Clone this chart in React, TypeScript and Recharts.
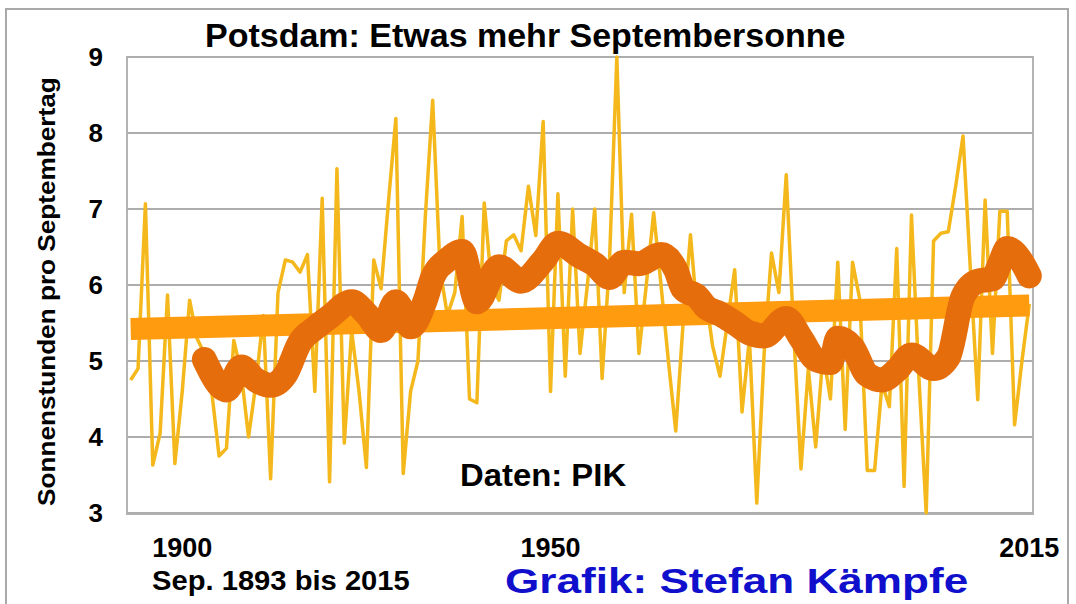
import { LineChart, Line, XAxis, YAxis, CartesianGrid } from 'recharts';

// Sep. 1893 bis 2015
const years = Array.from({ length: 123 }, (_, i) => 1893 + i);

// Sonnenstunden pro Septembertag
const sunshine = [
  4.75, 4.9, 7.07, 3.63, 4.05, 5.87, 3.65, 4.6, 5.8, 5.3,
  5.1, 4.6, 3.75, 3.85, 5.27, 4.85, 4.0, 4.7, 5.6, 3.45,
  5.9, 6.33, 6.3, 6.17, 6.4, 4.6, 7.14, 3.41, 7.53, 3.92,
  5.4, 4.6, 3.6, 6.33, 5.95, 7.1, 8.19, 3.52, 4.6, 5.0,
  6.9, 8.43, 6.2, 5.6, 5.9, 6.9, 4.5, 4.45, 7.08, 6.0,
  5.8, 6.58, 6.66, 6.45, 7.3, 6.65, 8.15, 4.6, 7.2, 4.8,
  7.0, 5.1, 6.0, 7.0, 4.77, 6.3, 9.0, 5.9, 6.93, 5.1,
  6.0, 6.95, 6.0, 5.0, 4.08, 5.5, 6.66, 5.5, 5.9, 5.2,
  4.8, 5.5, 6.2, 4.33, 5.3, 3.13, 5.1, 6.42, 5.9, 7.45,
  5.4, 3.58, 4.9, 3.87, 5.1, 4.5, 6.3, 4.1, 6.3, 5.8,
  3.56, 3.56, 4.7, 4.4, 6.48, 3.35, 6.92, 4.8, 3.0, 6.58,
  6.68, 6.7, 7.3, 7.96, 6.2, 4.49, 7.12, 5.1, 6.97, 6.97,
  4.16, 5.0, 5.75,
];

// gleitendes Mittel (dicke dunkelorange Kurve), read at these years
const maYears = [
  1903, 1905, 1906, 1908, 1910, 1912, 1914, 1916, 1918, 1920,
  1923, 1925, 1927, 1929, 1931, 1933, 1934, 1936, 1938, 1940,
  1943, 1946, 1949, 1951, 1954, 1956, 1958, 1960, 1962, 1965,
  1967, 1968, 1970, 1971, 1973, 1975, 1977, 1979, 1982, 1984,
  1986, 1988, 1989, 1991, 1993, 1995, 1997, 1999, 2002, 2004,
  2006, 2008, 2010, 2011, 2012, 2014, 2015,
];
const maValues = [
  5.02, 4.68, 4.62, 4.92, 4.75, 4.68, 4.82, 5.25, 5.43, 5.58,
  5.78, 5.62, 5.4, 5.78, 5.45, 5.8, 6.1, 6.33, 6.44, 5.78,
  6.24, 6.05, 6.32, 6.55, 6.38, 6.27, 6.1, 6.3, 6.28, 6.4,
  6.2, 5.95, 5.84, 5.72, 5.62, 5.5, 5.37, 5.33, 5.56, 5.3,
  5.02, 4.98, 5.3, 5.18, 4.82, 4.75, 4.88, 5.08, 4.9, 5.05,
  5.85, 6.05, 6.08, 6.28, 6.48, 6.3, 6.12,
];

// linearer Trend
const trendYears = [1893, 2015];
const trendValues = [5.42, 5.73];

const yTicks = [3, 4, 5, 6, 7, 8, 9];
const xTicks = [1900, 1950, 2015];

const data = years.map((year, i) => {
  const m = maYears.indexOf(year);
  const t = trendYears.indexOf(year);
  return {
    year,
    sun: sunshine[i],
    ma: m >= 0 ? maValues[m] : null,
    trend: t >= 0 ? trendValues[t] : null,
  };
});

const font = '"Liberation Sans", Arial, sans-serif';

function Txt({ left, top, size, scale = 1, color = '#000', weight = 'bold', children }) {
  return (
    <div
      style={{
        position: 'absolute',
        left,
        top,
        fontSize: size,
        lineHeight: 1,
        fontWeight: weight,
        color,
        whiteSpace: 'nowrap',
        transform: `scaleX(${scale})`,
        transformOrigin: 'left top',
      }}
    >
      {children}
    </div>
  );
}

export default function App() {
  return (
    <div style={{ position: 'absolute', left: 0, top: 0, width: 1076, height: 604, background: '#fff', fontFamily: font, overflow: 'hidden' }}>
      {/* outer frame */}
      <div style={{ position: 'absolute', left: 5, top: 8, width: 1064, height: 640, border: '2px solid #a9a9a9', boxSizing: 'border-box' }} />
      {/* plot frame */}
      <div style={{ position: 'absolute', left: 126, top: 56, width: 908, height: 459, border: '2px solid #b4b4b4', boxSizing: 'border-box' }} />

      <div style={{ position: 'absolute', left: 0, top: 0 }}>
        <LineChart width={1076} height={604} data={data} margin={{ top: 57, right: 43, bottom: 0, left: 0 }}>
          <CartesianGrid vertical={false} stroke="#adadad" strokeWidth={2} />
          <XAxis
            dataKey="year"
            type="number"
            domain={[1892.5, 2015.5]}
            ticks={xTicks}
            height={91}
            axisLine={false}
            tickLine={false}
            tickSize={0}
            tickMargin={25}
            tick={{ fill: '#000', fontSize: 27, fontWeight: 'bold', fontFamily: font }}
          />
          <YAxis
            domain={[3, 9]}
            ticks={yTicks}
            width={127}
            axisLine={false}
            tickLine={false}
            tickSize={0}
            tickMargin={24}
            tick={{ fill: '#000', fontSize: 26, fontWeight: 'bold', fontFamily: font }}
          />
          <Line
            dataKey="sun"
            type="linear"
            stroke="#f4b81c"
            strokeWidth={3.5}
            dot={false}
            strokeLinejoin="round"
            isAnimationActive={false}
          />
          <Line
            dataKey="trend"
            type="linear"
            stroke="#ff9b0f"
            strokeWidth={22}
            dot={false}
            connectNulls
            isAnimationActive={false}
          />
          <Line
            dataKey="ma"
            type="monotone"
            stroke="#e66d0b"
            strokeWidth={25}
            strokeLinecap="round"
            strokeLinejoin="round"
            dot={false}
            connectNulls
            isAnimationActive={false}
          />
        </LineChart>
      </div>

      <Txt left={205} top={19} size={33} scale={1.03}>Potsdam: Etwas mehr Septembersonne</Txt>
      <Txt left={460} top={460} size={31} scale={1.06}>Daten: PIK</Txt>
      <Txt left={152} top={568} size={27} scale={1.08}>Sep. 1893 bis 2015</Txt>
      <Txt left={505} top={563} size={35} scale={1.26} color="#1010cc">Grafik: Stefan Kämpfe</Txt>

      <div
        style={{
          position: 'absolute',
          left: 47 - 189,
          top: 300 - 12,
          width: 378,
          fontSize: 24,
          lineHeight: 1,
          fontWeight: 'bold',
          textAlign: 'center',
          whiteSpace: 'nowrap',
          transform: 'rotate(-90deg) scaleX(1.09)',
          transformOrigin: 'center center',
        }}
      >
        Sonnenstunden pro Septembertag
      </div>
    </div>
  );
}
